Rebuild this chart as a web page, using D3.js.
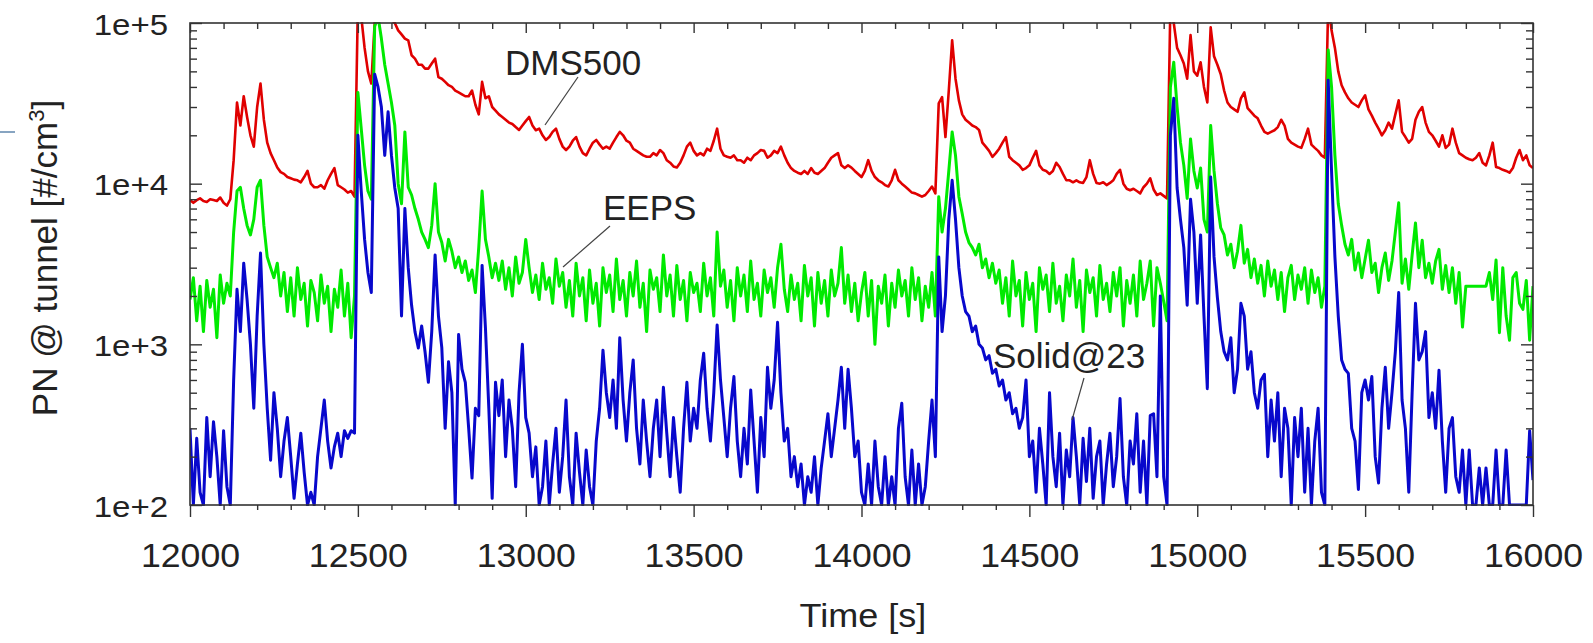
<!DOCTYPE html>
<html>
<head>
<meta charset="utf-8">
<script src="https://cdn.jsdelivr.net/npm/d3@7"></script>
<style>
  html, body { margin: 0; padding: 0; background: #fff; }
  svg { display: block; font-family: "Liberation Sans", Arial, sans-serif; }
</style>
</head>
<body>
<svg id="chart" width="1593" height="643"></svg>
<script>
// ---------------- data (sampled every 10 s, 12000 … 16000 s) ----------------
const timeStart = 12000;
const timeStep = 10;

const dms500 = [
  7900, 7600, 7900, 8100, 7800, 7700, 8000, 7900, 7800, 8200,
  7600, 7300, 8000, 14000, 32000, 23000, 35000, 26000, 20000, 17000,
  30000, 42000, 25000, 18000, 15500, 14000, 12600, 11800, 11500, 11000,
  10800, 10600, 10500, 10200, 11000, 12000, 10000, 9500, 9500, 9800,
  9300, 10500, 11500, 12500, 9800, 9500, 9200, 8800, 9000, 8300,
  130000, 110000, 70000, 50000, 42000, 100000, 120000, 115000, 120000, 110000,
  105000, 100000, 90000, 85000, 80000, 78000, 63000, 60000, 55000, 55000,
  52000, 52000, 56000, 60000, 46000, 45000, 43000, 41000, 40000, 38000,
  37000, 36000, 35000, 35000, 38000, 31000, 27000, 43000, 34000, 35000,
  30000, 28500, 27000, 26000, 25000, 24000, 23500, 22500, 21600, 23000,
  24500, 26000, 23000, 21500, 22000, 20000, 18700, 19500, 21000, 22000,
  19000, 17000, 16200, 17000, 18500, 19500, 17000, 15500, 15000, 16500,
  18000, 18700, 17500, 16500, 17000, 16500, 18000, 19500, 21000, 20000,
  18500, 18000, 16500, 16000, 15500, 15000, 14700, 14700, 15500, 15000,
  16200, 15500, 14000, 13500, 12800, 12600, 13500, 15000, 17000, 18000,
  16000, 15000, 15500, 15000, 16500, 16000, 18500, 22000, 16500, 15000,
  14700, 14500, 15000, 14000, 14000, 13500, 14500, 14000, 15000, 15500,
  16200, 16000, 14500, 15000, 16000, 15500, 17000, 15000, 13500, 12500,
  12000, 11700, 11500, 12000, 11500, 12500, 11700, 11500, 12000, 12500,
  13500, 14500, 15000, 15500, 13000, 12500, 13000, 12600, 12000, 11500,
  11000, 12000, 14000, 12000, 11000, 10500, 10200, 9800, 9600, 10500,
  12200, 10500, 10000, 9600, 9200, 8800, 8700, 8500, 8300, 8500,
  9000, 9600, 8700, 31600, 34600, 19500, 38000, 78000, 45000, 33000,
  27000, 25000, 24000, 23000, 22500, 21600, 18000, 17000, 16000, 14700,
  15500, 16500, 18000, 19500, 14700, 14000, 13500, 13000, 12200, 12500,
  13000, 14500, 16000, 13000, 12200, 12000, 11500, 12000, 13500, 12700,
  11500, 10500, 10500, 10200, 10500, 10200, 10100, 11000, 14000, 11500,
  10100, 10000, 10200, 9800, 10100, 10500, 11500, 12200, 10000, 9300,
  9100, 9300, 9000, 8700, 9500, 10000, 10800, 9200, 8500, 8700,
  8400, 8100, 130000, 100000, 70000, 63000, 56000, 45000, 84000, 50000,
  47000, 57000, 40000, 32000, 94000, 62000, 55000, 48000, 38000, 32000,
  30000, 29000, 28000, 34000, 37000, 29500, 28000, 26500, 25500, 23000,
  21000, 20500, 21000, 21500, 22500, 25000, 23000, 19000, 18000, 17500,
  17000, 16700, 19000, 22000, 17500, 16700, 16000, 15000, 14500, 130000,
  90000, 70000, 50000, 41000, 37000, 34000, 32000, 31000, 30000, 33000,
  35500, 29000, 26500, 24000, 22000, 20000, 21500, 24000, 22000, 27000,
  33000, 21000, 19500, 18000, 19000, 25000, 28000, 30000, 24000, 21000,
  20000, 18500, 17000, 20000, 16700, 17500, 22000, 18000, 15500, 15000,
  14500, 14200, 14000, 14500, 15500, 13500, 13000, 15000, 18000, 12700,
  12500, 12200, 12000, 11700, 12500, 14500, 16200, 14000, 15000, 13000,
  12500
];

const eeps = [
  1900, 2600, 1400, 2300, 1200, 2500, 1700, 2200, 1100, 2700,
  1800, 2400, 2000, 5000, 9000, 9500, 7000, 5500, 4800, 6000,
  9500, 10500, 5500, 3500, 3000, 2600, 3200, 2000, 2800, 1600,
  2600, 1500, 3000, 1900, 2400, 1300, 2500, 2100, 1400, 2700,
  1800, 2300, 1200, 2200, 1700, 2900, 1500, 2400, 1100, 2000,
  37000, 22000, 13000, 9000, 8000, 95000, 110000, 80000, 55000, 42000,
  32000, 23000, 10000, 7500, 21000, 9500, 8500, 7000, 6000, 5000,
  4500, 4000, 5500, 10000, 5000, 4300, 3300, 4500, 3800, 3000,
  3500, 2800, 3300, 2500, 2900, 2100, 4000, 9000, 4500, 3500,
  2600, 3200, 2500, 3300, 2200, 3000, 2000, 3500, 2400, 2800,
  4500, 3000, 2100, 2700, 1900, 3200, 2200, 2600, 1800, 3400,
  2300, 2800, 1700, 2500, 1500, 3200, 2000, 2600, 1400, 2900,
  1800, 2400, 1300, 3000, 2100, 2700, 1600, 3400, 1900, 2500,
  1500, 2800, 2000, 3300, 1700, 2400, 1200, 2900, 2200, 2600,
  1600, 3600, 2000, 2700, 1500, 3100, 1900, 2500, 1400, 2800,
  2100, 2400, 1600, 3200, 2000, 2600, 1500, 5000, 2300, 2900,
  1700, 2500, 1400, 3000, 2000, 2700, 1600, 3300, 1900, 2400,
  1500, 2900, 2100, 2600, 1700, 3000, 4200, 2200, 1600, 2700,
  1900, 2400, 1400, 3100, 2000, 2600, 1300, 2800, 1800, 2500,
  1500, 2900, 2000, 2400, 4000, 1800, 2700, 1600, 2400, 1400,
  2100, 2800, 1500, 2500, 1000, 2300, 1800, 2700, 1300, 2400,
  1700, 2900, 2000, 2500, 1500, 3000, 1900, 2600, 1400, 2300,
  1700, 2800, 1500, 8300, 5000, 7000, 12000, 21000, 15000, 8300,
  6500, 5000, 4300, 4000, 3600, 4200, 3000, 3400, 2600, 3200,
  2400, 2900, 1800, 2600, 1500, 3300, 2000, 2500, 1300, 2800,
  1900, 2400, 1200, 3000, 2200, 2700, 1600, 3200, 1800, 2300,
  1400, 2700, 2000, 3400, 1700, 2500, 1200, 2900, 2100, 2600,
  1500, 3100, 1900, 2400, 1600, 2800, 2000, 3000, 1300, 2500,
  1800, 2700, 1500, 3300, 1900, 2400, 3300, 1300, 3000, 2400,
  1850, 1400, 40000, 57000, 30000, 18000, 13000, 8100, 19000, 12000,
  9400, 12500, 6000, 5000, 23000, 12000, 7500, 5300, 4800, 3600,
  4200, 3000, 3800, 5500, 3200, 3900, 2600, 3400, 2400, 3100,
  2000, 3300, 2300, 2900, 1900, 2800, 1600, 2600, 3100, 1900,
  2700, 2200, 3000, 1800, 2900, 2100, 2600, 1700, 2300, 68000,
  40000, 15000, 7500, 5500, 4200, 3600, 4500, 2900, 3700, 2600,
  3400, 4450, 2800, 3200, 2100, 3000, 3700, 2500, 3300, 5000,
  7600, 2400, 3400, 2200, 3600, 5700, 3000, 4450, 2600, 3200,
  2400, 3300, 3900, 2200, 3100, 2100, 3000, 1800, 2800, 1280,
  2300, 2300, 2300, 2300, 2300, 2300, 2300, 2800, 1900, 3350,
  1180, 3000, 1500, 1060, 2600, 2800, 1800, 1650, 2500, 1060,
  2300
];

const solid23 = [
  300, 100, 260, 120, 100, 350, 150, 330, 200, 100,
  290, 130, 100, 600, 2200, 1200, 3200, 1900, 1000, 400,
  1500, 3700, 1000, 400, 190, 500, 300, 150, 250, 350,
  200, 110, 180, 280, 160, 100, 120, 100, 200, 300,
  450, 250, 170, 230, 280, 200, 290, 260, 290, 280,
  20000, 9000, 4500, 2800, 2100, 48000, 40000, 30000, 15000, 28000,
  15000, 9400, 7000, 1500, 7000, 3000, 1750, 1200, 950, 1300,
  900, 580, 1200, 3600, 1500, 950, 300, 780, 500, 100,
  1150, 700, 580, 300, 147, 400, 360, 3100, 1260, 400,
  110, 580, 360, 600, 200, 450, 300, 130, 500, 1000,
  350, 280, 150, 230, 100, 130, 250, 100, 180, 300,
  120, 200, 450, 150, 100, 280, 160, 100, 220, 130,
  100, 250, 400, 920, 500, 350, 600, 300, 1100, 450,
  250, 500, 800, 300, 180, 450, 250, 150, 300, 450,
  200, 540, 280, 150, 350, 200, 120, 300, 580, 250,
  400, 300, 600, 880, 400, 250, 500, 1320, 600, 350,
  200, 400, 630, 250, 150, 300, 180, 520, 250, 120,
  350, 200, 720, 400, 600, 1370, 500, 250, 300, 150,
  200, 130, 180, 100, 150, 120, 200, 100, 170, 250,
  370, 200, 300, 450, 720, 300, 700, 400, 200, 250,
  120, 100, 180, 100, 250, 130, 100, 200, 100, 150,
  100, 300, 430, 150, 100, 220, 100, 180, 100, 130,
  250, 450, 200, 3500, 1200, 2000, 6000, 10500, 6000, 3000,
  2000, 1600, 1500, 1200, 1300, 1000, 950, 800, 850, 660,
  700, 550, 600, 450, 500, 370, 400, 300, 350, 600,
  200, 250, 120, 300, 180, 100, 500, 200, 130, 280,
  100, 220, 150, 350, 200, 100, 260, 140, 300, 110,
  200, 250, 100, 180, 280, 130, 200, 460, 150, 100,
  250, 180, 370, 120, 250, 100, 360, 370, 150, 2000,
  150, 100, 20000, 34000, 9400, 6000, 4000, 1750, 8000, 5000,
  1800, 4800, 1500, 530, 11000, 3500, 1950, 1200, 900, 800,
  1100, 500, 700, 1800, 1500, 700, 900, 500, 400, 600,
  650, 200, 450, 250, 500, 150, 400, 300, 100, 350,
  200, 400, 120, 300, 100, 250, 400, 120, 100, 44000,
  12000, 3500, 1500, 800, 700, 660, 300, 250, 125, 500,
  600, 450, 630, 200, 137, 400, 720, 300, 500, 900,
  2100, 450, 300, 120, 500, 1800, 800, 900, 1200, 350,
  500, 300, 690, 250, 120, 300, 350, 150, 120, 220,
  100, 220, 100, 100, 170, 100, 170, 100, 100, 220,
  100, 100, 220, 100, 100, 100, 100, 100, 100, 290,
  143
];

const xTicks = [12000, 12500, 13000, 13500, 14000, 14500, 15000, 15500, 16000];
const yTicks = [1e2, 1e3, 1e4, 1e5];
const yTickLabels = ["1e+2", "1e+3", "1e+4", "1e+5"];
const seriesNames = ["DMS500", "EEPS", "Solid@23"];
const seriesColors = ["#e00000", "#00ea00", "#0808cc"];
const seriesWidths = [2.6, 3, 3];

// ---------------- layout ----------------
const L = 190, R = 1533, T = 23, B = 505;
const svg = d3.select("#chart");

const x = d3.scaleLinear().domain([12000, 16000]).range([L, R]);
const y = d3.scaleLog().domain([1e2, 1e5]).range([B, T]);

const minorX = d3.range(12000, 16001, 100).filter(v => v % 500 !== 0);
const minorY = y.ticks().filter(v => !yTicks.includes(v));

svg.append("defs").append("clipPath").attr("id", "plotclip")
  .append("rect").attr("x", L).attr("y", T - 1).attr("width", R - L).attr("height", B - T + 2);

// ---------------- series ----------------
const series = [dms500, eeps, solid23];
const plot = svg.append("g").attr("clip-path", "url(#plotclip)");
series.forEach((vals, k) => {
  const line = d3.line()
    .x((d, i) => x(timeStart + i * timeStep))
    .y(d => y(d));
  plot.append("path")
    .datum(vals)
    .attr("fill", "none")
    .attr("stroke", seriesColors[k])
    .attr("stroke-width", seriesWidths[k])
    .attr("stroke-linejoin", "round")
    .attr("d", line);
});

// ---------------- axes ----------------
const axisColor = "#333";
function styleAxis(g) {
  g.select(".domain").remove();
  g.selectAll(".tick line").attr("stroke", axisColor).attr("stroke-width", 1.4);
}
// bottom
svg.append("g").attr("transform", `translate(0,${B})`)
  .call(d3.axisBottom(x).tickValues(minorX).tickSize(5).tickFormat(""))
  .call(styleAxis);
const bottom = svg.append("g").attr("transform", `translate(0,${B})`)
  .call(d3.axisBottom(x).tickValues(xTicks).tickSize(12).tickFormat(d3.format("d")))
  .call(styleAxis);
bottom.selectAll(".tick text")
  .attr("x", null).attr("y", null).attr("dy", null)
  .attr("transform", "translate(0,62) scale(1.08,1)")
  .attr("font-size", 33).attr("fill", "#222")
  .attr("font-family", "Liberation Sans, Arial, sans-serif");
// top
svg.append("g").attr("transform", `translate(0,${T})`)
  .call(d3.axisTop(x).tickValues(minorX).tickSize(-6).tickFormat(""))
  .call(styleAxis);
svg.append("g").attr("transform", `translate(0,${T})`)
  .call(d3.axisTop(x).tickValues(xTicks).tickSize(-10).tickFormat(""))
  .call(styleAxis);
// left
svg.append("g").attr("transform", `translate(${L},0)`)
  .call(d3.axisLeft(y).tickValues(minorY).tickSize(-7).tickFormat(""))
  .call(styleAxis);
const left = svg.append("g").attr("transform", `translate(${L},0)`)
  .call(d3.axisLeft(y).tickValues(yTicks).tickSize(-12)
    .tickFormat((d, i) => yTickLabels[yTicks.indexOf(d)]))
  .call(styleAxis);
left.selectAll(".tick text")
  .attr("x", null).attr("dy", null)
  .attr("text-anchor", "end")
  .attr("transform", "translate(-22,11) scale(1.1,1)")
  .attr("font-size", 30).attr("fill", "#222")
  .attr("font-family", "Liberation Sans, Arial, sans-serif");
// right
svg.append("g").attr("transform", `translate(${R},0)`)
  .call(d3.axisRight(y).tickValues(minorY).tickSize(-7).tickFormat(""))
  .call(styleAxis);
svg.append("g").attr("transform", `translate(${R},0)`)
  .call(d3.axisRight(y).tickValues(yTicks).tickSize(-12).tickFormat(""))
  .call(styleAxis);

// frame
svg.append("rect").attr("x", L).attr("y", T).attr("width", R - L).attr("height", B - T)
  .attr("fill", "none").attr("stroke", axisColor).attr("stroke-width", 1.6);

// ---------------- titles ----------------
svg.append("text")
  .attr("transform", "translate(863,627) scale(1.06,1)")
  .attr("text-anchor", "middle")
  .attr("font-size", 34).attr("fill", "#222")
  .text("Time [s]");

const yl = svg.append("text")
  .attr("transform", "translate(57,258) rotate(-90)")
  .attr("text-anchor", "middle")
  .attr("font-size", 35).attr("fill", "#222");
yl.append("tspan").text("PN @ tunnel [#/cm");
yl.append("tspan").attr("dy", -13).attr("font-size", 22).text("3");
yl.append("tspan").attr("dy", 13).text("]");

// ---------------- annotations ----------------
const notes = [
  {name: seriesNames[0], tx: 505, ty: 75, x1: 578, y1: 77, x2: 545, y2: 125},
  {name: seriesNames[1], tx: 603, ty: 220, x1: 610, y1: 226, x2: 563, y2: 267},
  {name: seriesNames[2], tx: 993, ty: 368, x1: 1084, y1: 378, x2: 1072, y2: 420}
];
notes.forEach(n => {
  svg.append("line").attr("x1", n.x1).attr("y1", n.y1).attr("x2", n.x2).attr("y2", n.y2)
    .attr("stroke", "#444").attr("stroke-width", 1.2);
  svg.append("text").attr("x", n.tx).attr("y", n.ty)
    .attr("font-size", 35).attr("fill", "#222").text(n.name);
});

// small stray mark at the far left edge of the original figure
svg.append("line").attr("x1", 0).attr("y1", 132).attr("x2", 15).attr("y2", 132)
  .attr("stroke", "#5f86ad").attr("stroke-width", 1.5);
</script>
</body>
</html>
